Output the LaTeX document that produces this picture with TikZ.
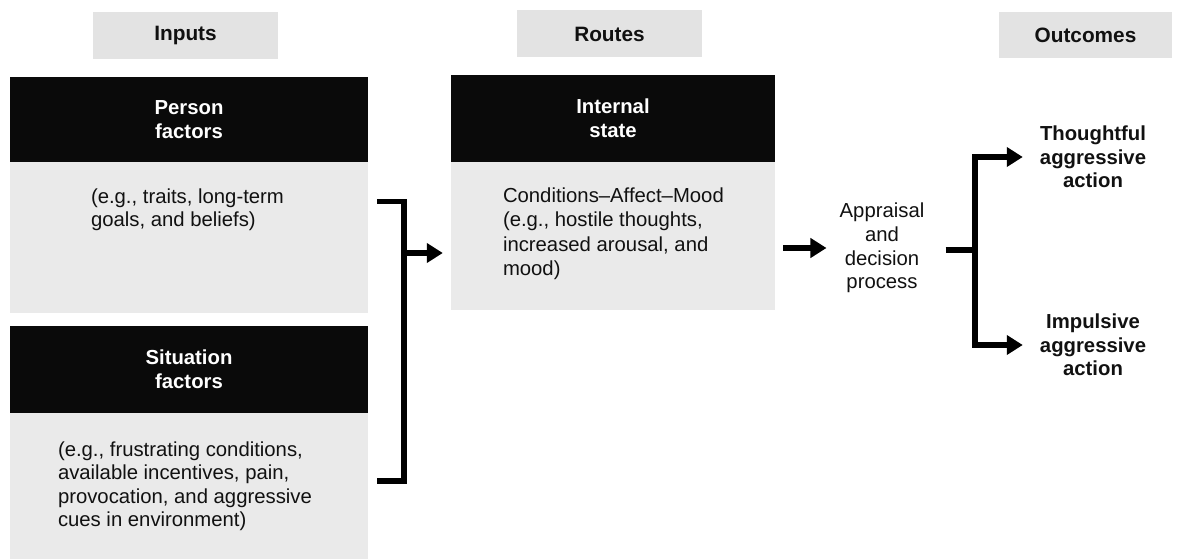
\documentclass[tikz,border=0pt]{standalone}
\usepackage{fontspec}
\setmainfont{Liberation Sans}
\usetikzlibrary{positioning,calc,arrows.meta}
\definecolor{txt}{HTML}{111111}
\definecolor{hdF}{HTML}{E3E3E3}
\definecolor{bxF}{HTML}{EAEAEA}
\definecolor{bkF}{HTML}{0A0A0A}

\begin{document}
\begin{tikzpicture}[
  x=1pt,y=-1pt,
  font=\fontsize{20.3}{23.5}\selectfont,text=txt,
  >={Triangle[length=16pt,width=19pt]},
  link/.style={line width=5.5pt},
  head/.style={fill=hdF,minimum width=185pt,minimum height=47pt,inner sep=0pt,font=\fontsize{20.8}{23.5}\selectfont\bfseries},
  title/.style={fill=bkF,text=white,align=center,inner sep=0pt,minimum width=358pt,minimum height=85pt,font=\fontsize{20.3}{24}\selectfont\bfseries},
  body/.style={fill=bxF,inner sep=0pt,minimum width=358pt},
  note/.style={align=left,anchor=north west,inner sep=0pt,font=\fontsize{20.3}{23.5}\selectfont},
  step2/.style={align=center,inner ysep=0pt,inner xsep=13pt,font=\fontsize{20.3}{23.7}\selectfont},
  act/.style={align=center,inner ysep=0pt,inner xsep=17pt,font=\fontsize{20.3}{23.7}\selectfont\bfseries},
  ]
\useasboundingbox (0,0) rectangle (1177,559);

% ---- column headers ----
\node[head] (hin) at (185.5,36) {Inputs};
\node[head] (hrt) at (609.5,34) {Routes};
\node[head,minimum width=173pt,minimum height=46pt] (hout) at (1085.5,35) {Outcomes};

% ---- inputs ----
\node[title] (pf) at (189,119.5) {Person\\factors};
\node[body,minimum height=151pt,below=0pt of pf] (pb) {};
\node[note] (pt) at ([xshift=81pt,yshift=-26pt]pb.north west) {(e.g., traits, long-term\\goals, and beliefs)};

\node[title,minimum height=87pt] (sf) at (189,369.5) {Situation\\factors};
\node[body,minimum height=146pt,below=0pt of sf] (sb) {};
\node[note] (st) at ([xshift=48pt,yshift=-28pt]sb.north west) {(e.g., frustrating conditions,\\available incentives, pain,\\provocation, and aggressive\\cues in environment)};

% ---- routes ----
\node[title,minimum width=324pt,minimum height=87pt] (is) at (613,118.5) {Internal\\state};
\node[body,minimum width=324pt,minimum height=148pt,below=0pt of is] (ib) {};
\node[note,font=\fontsize{20.3}{24.5}\selectfont] (it) at ([xshift=52pt,yshift=-25pt]ib.north west) {Conditions--Affect--Mood\\(e.g., hostile thoughts,\\increased arousal, and\\mood)};

\node[step2] (ap) at (882,248) {Appraisal\\and\\decision\\process};

% ---- outcomes ----
\node[act] (th) at (1093,157) {Thoughtful\\aggressive\\action};
\node[act] (im) at (1093,345) {Impulsive\\aggressive\\action};

% ---- connectors ----
\coordinate (pin) at (377,201.5);
\coordinate (sin) at (377,481);
\coordinate (jin) at (404,253);
\draw[link] (pin) -| (jin|-sin) -- (sin);
\draw[link,->] (jin) -- ([xshift=-8pt]ib.west|-jin);
\draw[link,->] ([xshift=8pt]ib.east|-ap.center) -- (ap.west);

\coordinate (fork) at (975,250);
\draw[link] ([xshift=8pt]ap.east|-fork) -- (fork);
\draw[link,->] (fork) |- (th.west);
\draw[link,->] (fork) |- (im.west);

\end{tikzpicture}
\end{document}
